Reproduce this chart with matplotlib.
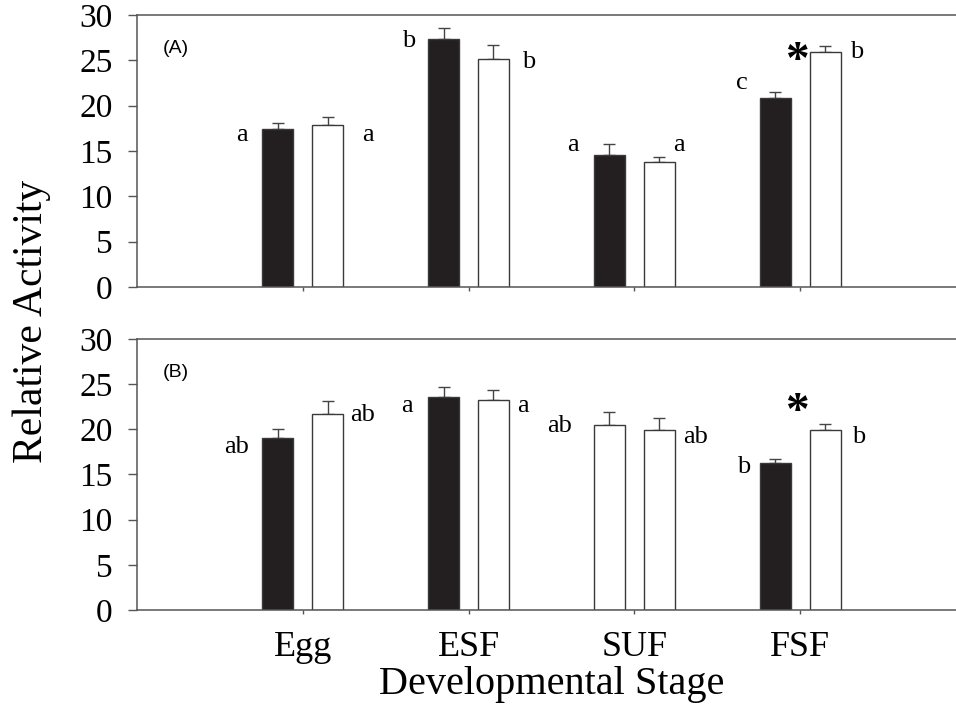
import numpy as np
import matplotlib.pyplot as plt

plt.rcParams['font.family'] = 'Liberation Serif'

stages = ['Egg', 'ESF', 'SUF', 'FSF']

# panel A
a_first = [17.4, 27.35, 14.55, 20.9]
a_first_err = [0.7, 1.2, 1.2, 0.65]
a_second = [17.9, 25.15, 13.8, 25.9]
a_second_err = [0.8, 1.5, 0.5, 0.7]

# panel B
b_first = [19.05, 23.55, 20.45, 16.25]
b_first_err = [0.95, 1.1, 1.45, 0.5]
b_second = [21.75, 23.3, 19.95, 19.9]
b_second_err = [1.35, 1.05, 1.25, 0.65]

# fill of the first bar of each pair (the SUF pair in B is drawn open)
a_first_fill = ['#231f20', '#231f20', '#231f20', '#231f20']
b_first_fill = ['#231f20', '#231f20', 'white', '#231f20']

# significance letters: (x, y, text)
a_letters = [(0.63, 16.8, 'a'), (1.39, 16.8, 'a'), (1.64, 27.1, 'b'), (2.36, 24.8, 'b'),
             (2.63, 15.7, 'a'), (3.27, 15.7, 'a'), (3.65, 22.5, 'c'), (4.34, 25.9, 'b')]
b_letters = [(0.60, 18.0, 'ab'), (1.36, 21.6, 'ab'), (1.63, 22.6, 'a'), (2.33, 22.6, 'a'),
             (2.55, 20.4, 'ab'), (3.37, 19.2, 'ab'), (3.66, 15.8, 'b'), (4.35, 19.2, 'b')]
a_star = (3.98, 24.8)
b_star = (3.98, 21.8)

fig = plt.figure(figsize=(9.56, 7.09), dpi=100)
ax_a = fig.add_axes([0.1433, 0.5952, 0.8567, 0.3836])
ax_b = fig.add_axes([0.1433, 0.1396, 0.8567, 0.3823])

x = np.arange(1, len(stages) + 1)
w = 0.187
off = 0.15
edge = '#3a3a3a'


def draw_panel(ax, first, first_err, second, second_err, first_fill, letters, star, tag):
    ax.bar(x - off, first, w, color=first_fill, edgecolor=edge, linewidth=1.0, zorder=2)
    ax.bar(x + off, second, w, color='white', edgecolor=edge, linewidth=1.0, zorder=2)
    ax.errorbar(x - off, first, yerr=[np.zeros(len(first)), first_err], fmt='none',
                ecolor='#444444', elinewidth=1.0, capsize=4.5, capthick=1.0, zorder=1)
    ax.errorbar(x + off, second, yerr=[np.zeros(len(second)), second_err], fmt='none',
                ecolor='#444444', elinewidth=1.0, capsize=4.5, capthick=1.0, zorder=1)
    for lx, ly, t in letters:
        ax.text(lx, ly, t, fontsize=19, ha='center', va='center')
    ax.text(star[0], star[1], '*', fontsize=34, fontweight='bold', ha='center', va='center')
    ax.text(0.157, 26.3, tag, fontsize=14, family='Liberation Sans', ha='left', va='center')

    ax.set_xlim(0, 4.94)
    ax.set_ylim(0, 30)
    ax.set_yticks(range(0, 31, 5))
    ax.set_xticks(x)
    ax.spines['right'].set_visible(False)
    for s in ['left', 'bottom', 'top']:
        ax.spines[s].set_color('#555555')
        ax.spines[s].set_linewidth(1.1)
    ax.tick_params(axis='y', direction='out', length=6.5, width=1, colors='#555555',
                   labelcolor='black', labelsize=24, pad=11)
    ax.tick_params(axis='x', direction='out', length=3, width=1, colors='#555555',
                   labelcolor='black', labelsize=26, pad=12)


draw_panel(ax_a, a_first, a_first_err, a_second, a_second_err, a_first_fill, a_letters, a_star, '(A)')
draw_panel(ax_b, b_first, b_first_err, b_second, b_second_err, b_first_fill, b_letters, b_star, '(B)')

ax_a.set_xticklabels([])
ax_b.set_xticklabels(stages)

fig.text(0.033, 0.547, 'Relative Activity', rotation=90, fontsize=30, ha='center', va='center')
fig.text(0.577, 0.034, 'Developmental Stage', fontsize=29, ha='center', va='center')

plt.savefig('out.png', dpi=100)
plt.close()
